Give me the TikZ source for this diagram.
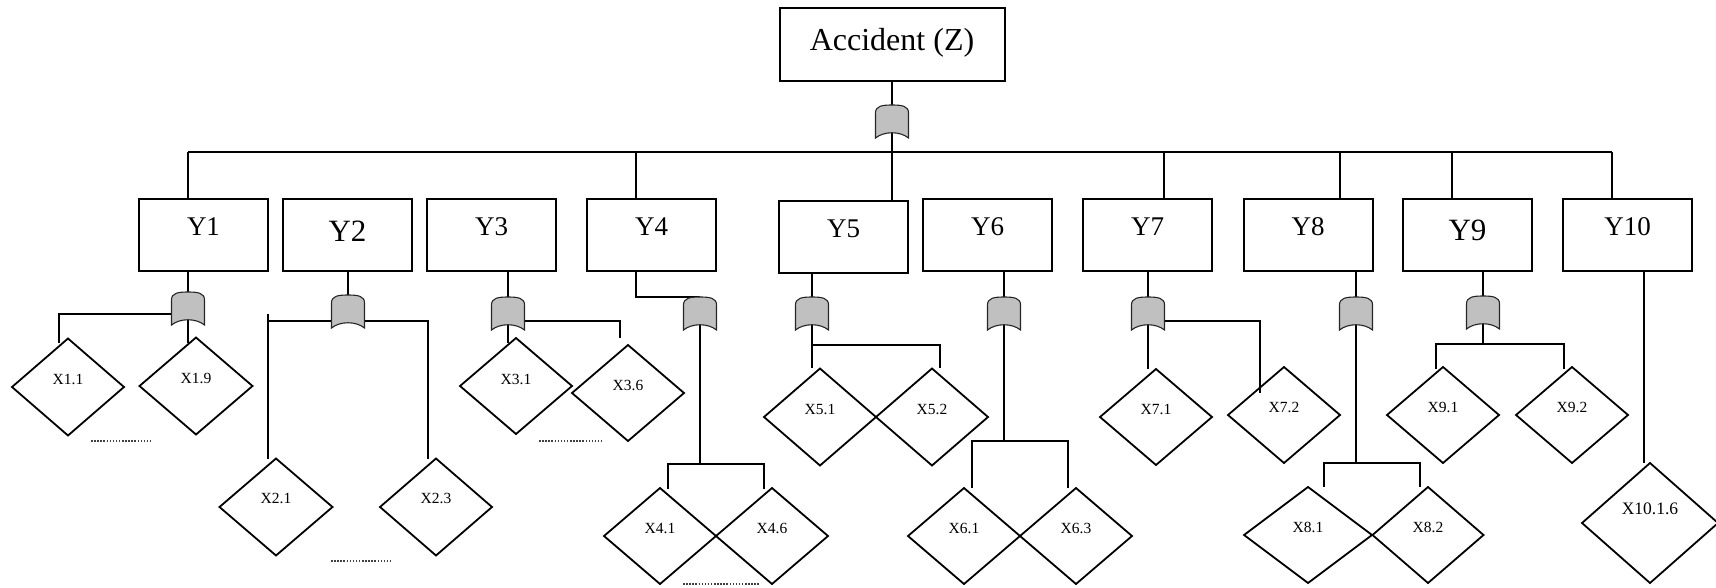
\documentclass[tikz,border=0pt]{standalone}
\usepackage{fontspec}
\setmainfont{Liberation Serif}
\usetikzlibrary{shapes.geometric,calc}
\definecolor{gatec}{HTML}{C0C0C0}
\tikzset{
  conn/.style={line width=1.8pt},
  boxst/.style={draw, line width=2pt, inner sep=0pt, outer sep=0pt},
  ybox/.style={boxst, minimum width=129pt, minimum height=72pt},
  ztext/.style={anchor=base, inner sep=0pt, font=\fontsize{32}{36}\selectfont},
  ytext/.style={anchor=base, inner sep=0pt, font=\fontsize{27}{30}\selectfont},
  ybig/.style={anchor=base, inner sep=0pt, font=\fontsize{31}{34}\selectfont},
  xdia/.style={draw, shape=diamond, line width=1.8pt, inner sep=0pt, outer sep=0pt},
  xtext/.style={anchor=base, inner sep=0pt, font=\fontsize{15.5}{17}\selectfont},
  gatest/.style={fill=gatec, draw=black!85, line width=1.1pt},
  dotline/.style={line width=1.6pt, dash pattern=on 1.5pt off 1.6pt, black!75},
  orgate/.pic={\draw[gatest] (-16.5,8) -- (-16.5,33) .. controls (-8,26) and (8,26) .. (16.5,33) -- (16.5,8) .. controls (16.5,1) and (10,0) .. (0,0) .. controls (-10,0) and (-16.5,1) .. cycle;}
}
\newcommand\mkdia[7]{\node[xdia, minimum width=#4pt, minimum height=#5pt] (#1) at (#2,#3) {};
  \node[xtext] (#1t) at (#2,#3-#6) {#7};}
\begin{document}
\begin{tikzpicture}[x=1pt,y=-1pt]
\useasboundingbox (0,0) rectangle (1716,587);
% top event
\node[boxst, minimum width=225pt, minimum height=73pt] (Z) at (892,44.5) {};
\node[ztext] (Zt) at (892,50) {Accident (Z)};
% intermediate events
\node[ybox] (Y1) at (203.5,235) {};  \node[ytext] (Y1t) at (203.5,235) {Y1};
\node[ybox] (Y2) at (347.5,235) {};  \node[ybig]  (Y2t) at (347.5,241) {Y2};
\node[ybox] (Y3) at (491.5,235) {};  \node[ytext] (Y3t) at (491.5,235) {Y3};
\node[ybox] (Y4) at (651.5,235) {};  \node[ytext] (Y4t) at (651.5,235) {Y4};
\node[ybox] (Y5) at (843.5,237) {};  \node[ytext] (Y5t) at (843.5,237) {Y5};
\node[ybox] (Y6) at (987.5,235) {};  \node[ytext] (Y6t) at (987.5,235) {Y6};
\node[ybox] (Y7) at (1147.5,235) {}; \node[ytext] (Y7t) at (1147.5,235) {Y7};
\node[ybox] (Y8) at (1308,235) {};   \node[ytext] (Y8t) at (1308,235) {Y8};
\node[ybox] (Y9) at (1467.5,235) {}; \node[ybig]  (Y9t) at (1467.5,240) {Y9};
\node[ybox] (Y10) at (1627.5,235) {};\node[ytext] (Y10t) at (1627.5,235) {Y10};
% basic events
\mkdia{X11}{68}{387}{112}{97}{3}{X1.1}
\mkdia{X19}{196}{386}{113}{97}{3}{X1.9}
\mkdia{X21}{276}{507}{113}{97}{4}{X2.1}
\mkdia{X23}{436}{507}{112}{97}{4}{X2.3}
\mkdia{X31}{516}{386}{112}{96}{2}{X3.1}
\mkdia{X36}{628}{393}{112}{96}{3}{X3.6}
\mkdia{X41}{660}{536}{112}{96}{3}{X4.1}
\mkdia{X46}{772}{536}{112}{96}{3}{X4.6}
\mkdia{X51}{820}{417}{112}{97}{3}{X5.1}
\mkdia{X52}{932}{417}{112}{97}{3}{X5.2}
\mkdia{X61}{964}{536}{112}{96}{3}{X6.1}
\mkdia{X63}{1076}{536}{112}{96}{3}{X6.3}
\mkdia{X71}{1156}{417}{112}{96}{3}{X7.1}
\mkdia{X72}{1284}{415}{112}{96}{3}{X7.2}
\mkdia{X81}{1308}{535}{128}{96}{3}{X8.1}
\mkdia{X82}{1428}{535}{111}{96}{3}{X8.2}
\mkdia{X91}{1443}{415}{112}{96}{3}{X9.1}
\mkdia{X92}{1572}{415}{112}{96}{3}{X9.2}
\mkdia{X10}{1650}{523}{136}{120}{9}{\fontsize{17.5}{19}\selectfont X10.1.6}
% gate positions (top centre)
\coordinate (gZ) at (892,105);
\coordinate (g1) at (188,292);
\coordinate (g2) at (348,295);
\coordinate (g3) at (508,297);
\coordinate (g4) at (700,297);
\coordinate (g5) at (812,297);
\coordinate (g6) at (1004,297);
\coordinate (g7) at (1148,297);
\coordinate (g8) at (1356,297);
\coordinate (g9) at (1483,296);
% top level connectors
\coordinate (busL) at (188,152);
\coordinate (busR) at (1612,152);
\draw[conn] (Z.south) -- (Z.south |- Y5.north);
\draw[conn] (busL) -- (busR);
\foreach \n/\x in {Y1/188, Y4/636, Y7/1164, Y8/1340, Y9/1452, Y10/1612}
  \draw[conn] (\x,152) -- (\x,152 |- \n.north);
% Y1
\coordinate (j1a) at (59,314);
\draw[conn] (Y1.south -| g1) -- (g1);
\draw[conn] ($(g1)+(0,22)$) -- (j1a) -- ($(j1a)+(0,29)$);
\draw[conn] ($(g1)+(0,25)$) -- ($(g1)+(0,51)$);
% Y2
\coordinate (j2l) at (268,321);
\coordinate (j2r) at (428,321);
\draw[conn] (Y2.south -| g2) -- (g2);
\draw[conn] (j2l) -- (j2r) -- ($(j2r)+(0,138)$);
\draw[conn] ($(j2l)+(0,-7)$) -- ($(j2l)+(0,138)$);
% Y3
\coordinate (j3r) at (620,321);
\draw[conn] (Y3.south -| g3) -- (g3);
\draw[conn] ($(g3)+(0,25)$) -- ($(g3)+(0,46)$);
\draw[conn] ($(g3)+(0,24)$) -- (j3r) -- ($(j3r)+(0,17)$);
% Y4
\coordinate (j4) at (700,464);
\draw[conn] (Y4.south -| 636,0) -- (636,297) -- (g4);
\draw[conn] ($(g4)+(0,25)$) -- (j4);
\draw[conn] (668,489) -- (668,464) -- (764,464) -- (764,489);
% Y5
\coordinate (j5r) at (940,345);
\draw[conn] (Y5.south -| g5) -- (g5);
\draw[conn] ($(g5)+(0,25)$) -- ($(g5)+(0,71)$);
\draw[conn] (g5 |- j5r) -- (j5r) -- ($(j5r)+(0,23)$);
% Y6
\coordinate (j6) at (1004,441);
\draw[conn] (Y6.south -| g6) -- (g6);
\draw[conn] ($(g6)+(0,25)$) -- (j6);
\draw[conn] (972,488) -- (972,441) -- (1068,441) -- (1068,488);
% Y7
\coordinate (j7r) at (1260,321);
\draw[conn] (Y7.south -| g7) -- (g7);
\draw[conn] ($(g7)+(0,25)$) -- ($(g7)+(0,72)$);
\draw[conn] ($(g7)+(0,24)$) -- (j7r) -- ($(j7r)+(0,72)$);
% Y8
\coordinate (j8) at (1356,463);
\draw[conn] (Y8.south -| g8) -- (g8);
\draw[conn] ($(g8)+(0,25)$) -- (j8);
\draw[conn] (1324,487) -- (1324,463) -- (1420,463) -- (1420,487);
% Y9
\coordinate (j9) at (1483,344);
\draw[conn] (Y9.south -| g9) -- (g9);
\draw[conn] ($(g9)+(0,25)$) -- (j9);
\draw[conn] (1436,369) -- (1436,344) -- (1564,344) -- (1564,369);
% Y10
\draw[conn] (Y10.south -| 1644,0) -- (X10.north -| 1644,0);
% gates
\foreach \g in {gZ,g1,g2,g3,g4,g5,g6,g7,g8,g9}
  \pic at (\g) {orgate};
% continuation dots
\draw[dotline] (91,441) -- (153,441);
\draw[dotline] (331,561) -- (393,561);
\draw[dotline] (539,441) -- (602,441);
\draw[dotline] (683,584) -- (760,584);
\end{tikzpicture}
\end{document}
